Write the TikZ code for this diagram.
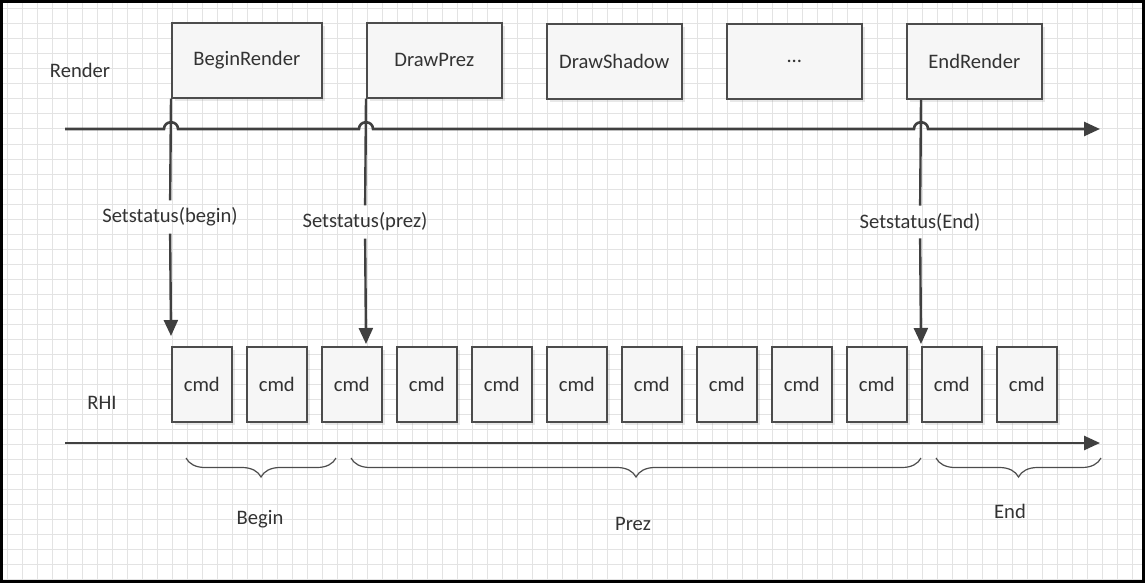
\documentclass[tikz,border=0pt]{standalone}
\usepackage{fontspec}
\setmainfont{Carlito}
\usetikzlibrary{arrows.meta,shadows,decorations.pathreplacing}

\tikzset{
  gridline/.style={draw=gray!22, line width=0.5pt},
  callbox/.style={draw=black!70, line width=0.8pt, fill=gray!7, anchor=north west,
    minimum width=67.5pt, minimum height=37.5pt, inner sep=0pt, text=black!80,
    drop shadow={shadow xshift=1.5pt, shadow yshift=-1.5pt, opacity=0.18}},
  cmdbox/.style={callbox, minimum width=30pt},
  timeline/.style={draw=black!75, line width=1.3pt, -{Triangle[length=8pt,width=7pt]}},
  flow/.style={draw=black!75, line width=1.2pt},
  lbl/.style={text=black!80, inner sep=3.5pt},
  brace/.style={draw=black!70, line width=0.6pt,
    decorate, decoration={brace, mirror, amplitude=9.5pt}}
}

\begin{document}
\begin{tikzpicture}[x=0.5pt, y=-0.5pt, font=\fontsize{10.3}{12}\selectfont]
  \useasboundingbox (0,0) rectangle (1145,583);

  % Background grid
  \foreach \x in {7,22,...,1140}
    \draw[gridline] (\x,3) -- (\x,580);
  \foreach \y in {9,24,...,579}
    \draw[gridline] (3,\y) -- (1142,\y);
  \draw[black, line width=2pt] (1,1) rectangle (1144,582);

  % Render calls
  \node[lbl] (render) at (80,70) {Render};
  \node[callbox, minimum width=75pt] (beginrender) at (171,22) {BeginRender};
  \node[callbox] (drawprez) at (366,22) {DrawPrez};
  \node[callbox] (drawshadow) at (546,23) {DrawShadow};
  \node[callbox] (dots) at (726,23) {...};
  \node[callbox] (endrender) at (906,23) {EndRender};

  % Render time line, hopping over the status lines
  \coordinate (rstart) at (65,129);
  \coordinate (rend) at (1100,129);
  \draw[timeline] (rstart) -- (164,129) .. controls (164,120) and (178,120) .. (178,129)
    -- (359,129) .. controls (359,120) and (373,120) .. (373,129)
    -- (914,129) .. controls (914,120) and (928,120) .. (928,129) -- (rend);

  % RHI commands
  \node[lbl] (rhi) at (102,403) {RHI};
  \foreach \i in {1,...,12}
    \node[cmdbox] (cmd\i) at ({171+75*(\i-1)},346) {cmd};

  % RHI time line
  \coordinate (hstart) at (65,443);
  \coordinate (hend) at (1100,443);
  \draw[timeline] (hstart) -- (hend);

  % Status changes
  \node[lbl] (stbegin) at (170,217) {Setstatus(begin)};
  \node[lbl] (stprez) at (365,222) {Setstatus(prez)};
  \node[lbl] (stend) at (920,222) {Setstatus(End)};
  \coordinate (tbegin) at (171,336);
  \coordinate (tprez) at (366,344);
  \coordinate (tend) at (921,344);
  \draw[flow] (beginrender.south west) -- (stbegin);
  \draw[flow, -{Triangle[length=8pt,width=7pt]}] (stbegin) -- (tbegin);
  \draw[flow] (drawprez.south west) -- (stprez);
  \draw[flow, -{Triangle[length=8pt,width=7pt]}] (stprez) -- (tprez);
  \draw[flow] ([xshift=7.5pt]endrender.south west) -- (stend);
  \draw[flow, -{Triangle[length=8pt,width=7pt]}] (stend) -- (tend);

  % Phases
  \draw[brace] (186,458) -- (336,458);
  \draw[brace] (351,458) -- (921,458);
  \draw[brace] (936,458) -- (1101,458);
  \node[lbl] (pbegin) at (260,519) {Begin};
  \node[lbl] (pprez) at (633,524) {Prez};
  \node[lbl] (pend) at (1010,511) {End};
\end{tikzpicture}
\end{document}
